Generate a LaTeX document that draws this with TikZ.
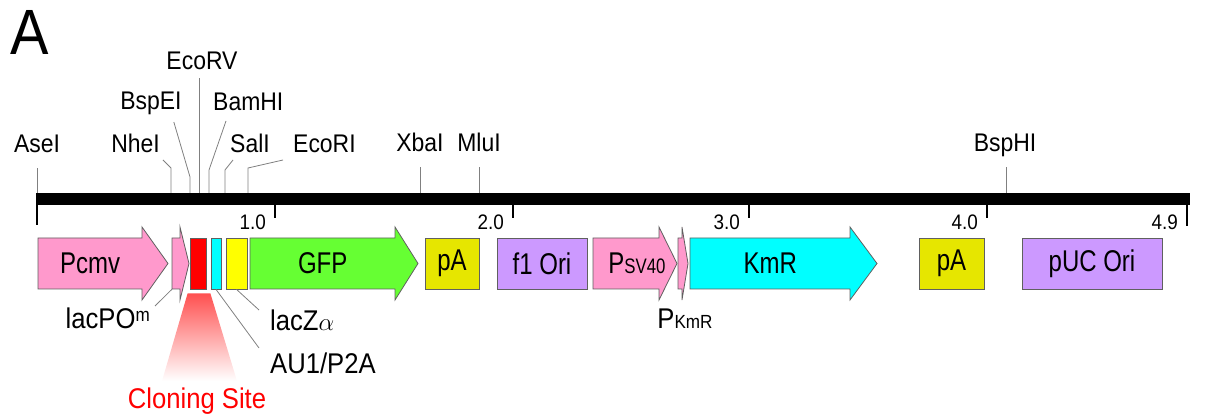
\documentclass[tikz,border=0pt]{standalone}
\usepackage{fontspec}
\setmainfont{Liberation Sans}[FakeStretch=0.9]
\newfontfamily\narrowsans{Liberation Sans}[FakeStretch=0.8]
\usetikzlibrary{positioning,calc}

\definecolor{promoter}{HTML}{FF99CC}
\definecolor{gfpgreen}{HTML}{66FF33}
\definecolor{polyA}{HTML}{E6E600}
\definecolor{origin}{HTML}{CC99FF}
\definecolor{tagcyan}{HTML}{00FFFF}
\definecolor{lacyellow}{HTML}{FFFF00}
\definecolor{edgegray}{HTML}{606060}
\definecolor{leadgray}{HTML}{808080}
\definecolor{cloning}{HTML}{FF5050}

\newcommand{\fsize}[1]{\fontsize{#1}{#1}\selectfont}

% gene arrow: name, start, head start, tip, colour, text
\newcommand{\genearrow}[6]{%
  \draw[part, fill=#5] (#2,238) -- (#3,238) -- (#3,227) -- (#4,263.5) -- (#3,300) -- (#3,289) -- (#2,289) -- cycle;
  \node[inner sep=0, minimum height=51, minimum width={#3-#2}, anchor=west, font=\narrowsans\fsize{30}] (#1) at (#2,263.5) {#6};}

\begin{document}
\begin{tikzpicture}[x=1pt, y=-1pt,
  part/.style={draw=edgegray, line width=0.8pt},
  box/.style={part, inner sep=0, minimum height=51, font=\narrowsans\fsize{30}},
  site/.style={font=\fsize{25.5}, inner sep=0},
  siteline/.style={draw=leadgray, line width=0.8pt},
  leader/.style={draw=leadgray, line width=0.8pt},
  lowlabel/.style={font=\fsize{28.5}, inner sep=0},
  tick/.style={line width=2pt}]
  \useasboundingbox (0,0) rectangle (1212,419);

  \node[font=\fsize{64}, anchor=base west, inner sep=0] (panel) at (10,55) {A};

  % backbone and scale
  \fill (37,193) rectangle (1190,205);
  \draw[tick] (37,193) -- (37,225);
  \foreach \x/\t/\e [count=\i] in {275/1.0/218, 513/2.0/218, 749/3.0/218, 987/4.0/218, 1187/4.9/226} {
    \draw[tick] (\x,205) -- (\x,\e);
    \node[font=\fsize{21}, inner sep=0, anchor=base east] (tick-\i) at (\x-9,230) {\t};
  }

  % restriction sites
  \foreach \s/\x in {AseI/37, NheI/171, BspEI/190, EcoRV/199, BamHI/209, SalI/225, EcoRI/248, XbaI/420, MluI/479, BspHI/1006}
    \coordinate (cut-\s) at (\x,193);
  \node[site, anchor=base] (AseI) at (37,153) {AseI};
  \node[site, anchor=base east] (NheI) at (160,153) {NheI};
  \node[site, anchor=base] (BspEI) at (151,110) {BspEI};
  \node[site, anchor=base] (EcoRV) at (202,70) {EcoRV};
  \node[site, anchor=base west] (BamHI) at (213,111) {BamHI};
  \node[site, anchor=base west] (SalI) at (230,153) {SalI};
  \node[site, anchor=base west] (EcoRI) at (293,153) {EcoRI};
  \node[site, anchor=base] (XbaI) at (420,152) {XbaI};
  \node[site, anchor=base] (MluI) at (479,152) {MluI};
  \node[site, anchor=base] (BspHI) at (1005,152) {BspHI};

  \foreach \s in {AseI, XbaI, MluI, BspHI}
    \draw[siteline] (cut-\s) -- ([yshift=-15pt]cut-\s |- \s.base);
  \draw[siteline] (cut-EcoRV) -- ([yshift=-8pt]cut-EcoRV |- EcoRV.base);
  \draw[siteline] (cut-NheI) -- ++(0,-25) -- ([xshift=3pt,yshift=-7pt]NheI.base east);
  \draw[siteline] (cut-BspEI) -- ++(0,-16) -- ([xshift=-8pt,yshift=-12pt]BspEI.base east);
  \draw[siteline] (cut-BamHI) -- ++(0,-23) -- ([xshift=13pt,yshift=-10pt]BamHI.base west);
  \draw[siteline] (cut-SalI) -- ++(0,-23) -- ([xshift=3pt,yshift=-7pt]SalI.base west);
  \draw[siteline] (cut-EcoRI) -- ++(0,-25) -- ([xshift=-10pt,yshift=-7pt]EcoRI.base west);

  % features
  \genearrow{pcmv}{38}{142}{168}{promoter}{Pcmv}
  \genearrow{lacpo}{172}{180}{189}{promoter}{}
  \node[box, fill=red, minimum width=16] (cs) at (198,263.5) {};
  \node[box, fill=tagcyan, minimum width=10] (au1) at (216,263.5) {};
  \node[box, fill=lacyellow, minimum width=21] (lacz) at (236.5,263.5) {};
  \genearrow{gfp}{250}{395}{418}{gfpgreen}{GFP}
  \node[box, fill=polyA, minimum width=54] (pa1) at (452,263.5) {pA};
  \node[box, fill=origin, minimum width=90] (f1ori) at (542,263.5) {f1 Ori};
  \genearrow{psv40}{593}{659}{677}{promoter}{}
  \node[inner sep=0, font=\narrowsans\fsize{30}] (psv40label) at (637,263.5) {P{\fsize{21}SV40}};
  \genearrow{pkmr}{678}{682}{688}{promoter}{}
  \genearrow{kmr}{690}{850}{877}{tagcyan}{KmR}
  \node[box, fill=polyA, minimum width=65] (pa2) at (951.5,263.5) {pA};
  \node[box, fill=origin, minimum width=140] (pucori) at (1092,263.5) {pUC Ori};

  % cloning site fan
  \shade[top color=cloning, bottom color=white] ($(cs.south west)+(-2,4)$) -- ($(cs.south east)+(4,4)$) -- (237,381) -- (162,381) -- cycle;
  \node[lowlabel, text=red] (cslabel) at (197,401) {Cloning Site};

  % labels under the features
  \node[lowlabel, anchor=north east] (lacpolabel) at (150,308) {lacPO\raisebox{7pt}{\fsize{19}m}};
  \node[lowlabel, anchor=north west] (laczlabel) at (270,310) {lacZ$\alpha$};
  \node[lowlabel, anchor=north west] (au1label) at (270,353) {AU1/P2A};
  \node[lowlabel, anchor=north] (pkmrlabel) at (685,309) {P{\fsize{19}KmR}};
  \draw[leader] (lacpo.south west) -- ([xshift=5pt,yshift=2pt]lacpolabel.north east);
  \draw[leader] (lacz.south) -- ([xshift=-11pt]laczlabel.north west);
  \draw[leader] (au1.south) -- ([xshift=-11pt,yshift=5pt]au1label.north west);
\end{tikzpicture}
\end{document}
